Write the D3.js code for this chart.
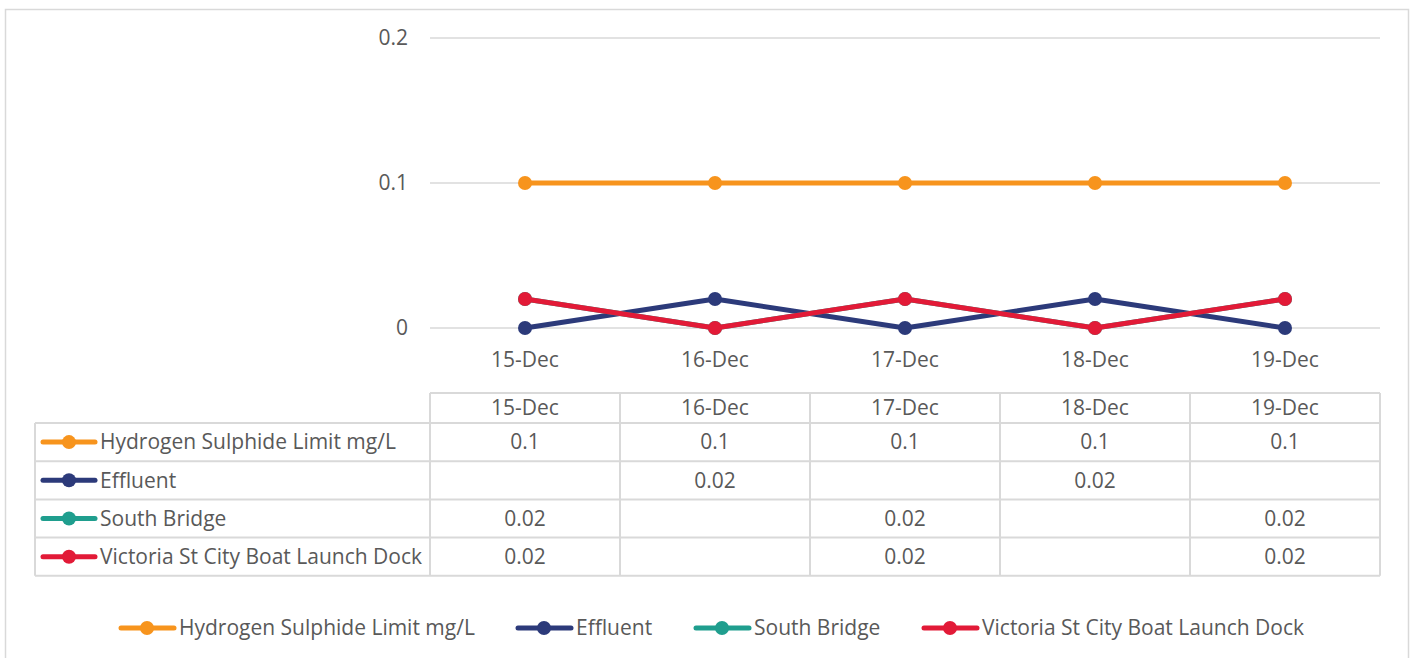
<!DOCTYPE html>
<html><head><meta charset="utf-8">
<script src="https://cdn.jsdelivr.net/npm/d3@7"></script>
<style>body{margin:0;background:#fff;}svg{display:block;font-family:"Open Sans",sans-serif;}</style>
</head><body>
<svg id="c" width="1415" height="658"></svg>
<script>
const categories = ["15-Dec","16-Dec","17-Dec","18-Dec","19-Dec"];
const seriesNames = ["Hydrogen Sulphide Limit mg/L","Effluent","South Bridge","Victoria St City Boat Launch Dock"];
const limitValues = [0.1,0.1,0.1,0.1,0.1];
const effluentValues = [null,0.02,null,0.02,null];
const southBridgeValues = [0.02,null,0.02,null,0.02];
const victoriaValues = [0.02,null,0.02,null,0.02];
const yTicks = [0,0.1,0.2];
const colors = ["#F7941D","#2C3A7A","#1F9E8E","#E21A37"];

const seriesValues = [limitValues,effluentValues,southBridgeValues,victoriaValues];
const svg = d3.select("#c");
const textCol = "#595959", gridCol = "#D9D9D9";
const fs = 21;

// outer border
svg.append("rect").attr("x",5.5).attr("y",9.5).attr("width",1403).attr("height",660)
  .attr("fill","none").attr("stroke","#D9D9D9").attr("stroke-width",1.5);

const x = d3.scaleBand().domain(categories).range([430,1380]);
const y = d3.scaleLinear().domain([0,0.2]).range([328,38]);

// gridlines
svg.append("g").selectAll("line").data(yTicks).join("line")
  .attr("x1",430).attr("x2",1380).attr("y1",d=>y(d)).attr("y2",d=>y(d))
  .attr("stroke",gridCol).attr("stroke-width",1.5);
// y labels
svg.append("g").selectAll("text").data(yTicks).join("text")
  .attr("x",408).attr("y",d=>y(d)).attr("dy","0.35em").attr("text-anchor","end")
  .attr("fill",textCol).attr("font-size",fs).text(d=>d3.format("")(d));
// x labels
svg.append("g").selectAll("text").data(categories).join("text")
  .attr("x",d=>x(d)+x.bandwidth()/2).attr("y",360).attr("dy","0.35em").attr("text-anchor","middle")
  .attr("fill",textCol).attr("font-size",fs).text(d=>d);

// lines: blanks plotted as zero
const line = d3.line().x((d,i)=>x(categories[i])+x.bandwidth()/2).y(d=>y(d==null?0:d));
seriesValues.forEach((vals,si)=>{
  const g = svg.append("g");
  g.append("path").datum(vals).attr("d",line).attr("fill","none")
    .attr("stroke",colors[si]).attr("stroke-width",5).attr("stroke-linejoin","round");
  g.selectAll("circle").data(vals).join("circle")
    .attr("cx",(d,i)=>x(categories[i])+x.bandwidth()/2).attr("cy",d=>y(d==null?0:d))
    .attr("r",7).attr("fill",colors[si]);
});

// data table
const tableTop = 393, headerH = 30, rowH = 38.2, labelLeft = 35;
const tg = svg.append("g");
const rowY = i => tableTop + headerH + i*rowH;
const tableBottom = rowY(seriesNames.length);
function ln(x1,y1,x2,y2){tg.append("line").attr("x1",x1).attr("y1",y1).attr("x2",x2).attr("y2",y2).attr("stroke",gridCol).attr("stroke-width",2);}
ln(430,tableTop,1380,tableTop);
for(let i=0;i<=seriesNames.length;i++){ ln(labelLeft,rowY(i),1380,rowY(i)); }
ln(labelLeft,rowY(0),labelLeft,tableBottom);
categories.forEach(c=>ln(x(c),tableTop,x(c),tableBottom));
ln(1380,tableTop,1380,tableBottom);
tg.selectAll("text.h").data(categories).join("text").attr("class","h")
  .attr("x",d=>x(d)+x.bandwidth()/2).attr("y",tableTop+headerH/2).attr("dy","0.35em")
  .attr("text-anchor","middle").attr("fill",textCol).attr("font-size",fs).text(d=>d);
seriesNames.forEach((name,si)=>{
  const cy = rowY(si)+rowH/2;
  tg.append("line").attr("x1",43).attr("x2",95).attr("y1",cy).attr("y2",cy)
    .attr("stroke",colors[si]).attr("stroke-width",5).attr("stroke-linecap","round");
  tg.append("circle").attr("cx",69).attr("cy",cy).attr("r",7).attr("fill",colors[si]);
  tg.append("text").attr("x",100).attr("y",cy).attr("dy","0.35em").attr("fill",textCol)
    .attr("font-size",fs).text(name);
  seriesValues[si].forEach((v,i)=>{
    if(v==null) return;
    tg.append("text").attr("x",x(categories[i])+x.bandwidth()/2).attr("y",cy).attr("dy","0.35em")
      .attr("text-anchor","middle").attr("fill",textCol).attr("font-size",fs).text(v);
  });
});

// bottom legend
const legendX = [119,516,694,922];
const lg = svg.append("g");
seriesNames.forEach((name,si)=>{
  const lx = legendX[si], cy = 628;
  lg.append("line").attr("x1",lx+2).attr("x2",lx+55).attr("y1",cy).attr("y2",cy)
    .attr("stroke",colors[si]).attr("stroke-width",5).attr("stroke-linecap","round");
  lg.append("circle").attr("cx",lx+28).attr("cy",cy).attr("r",7).attr("fill",colors[si]);
  lg.append("text").attr("x",lx+60).attr("y",cy).attr("dy","0.35em").attr("fill",textCol)
    .attr("font-size",fs).text(name);
});
</script>
</body></html>
